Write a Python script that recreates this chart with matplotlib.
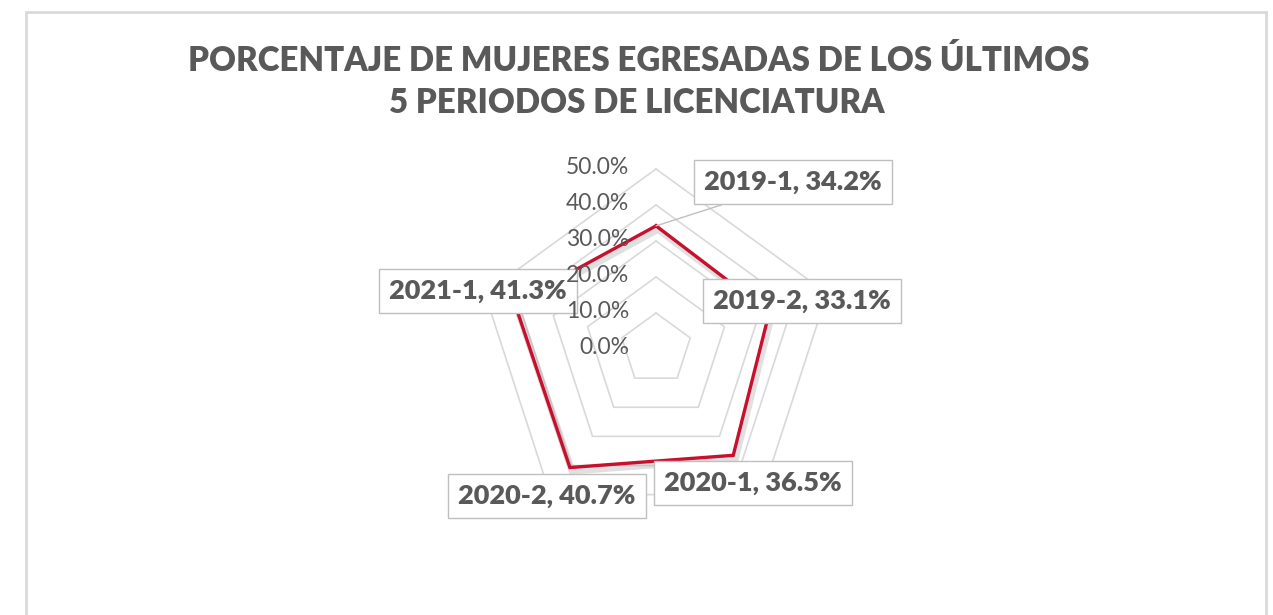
import numpy as np
import matplotlib
matplotlib.use('Agg')
import matplotlib.pyplot as plt
import matplotlib.patheffects as pe
from matplotlib.patches import Rectangle

# datos del grafico
periodos = ['2019-1', '2019-2', '2020-1', '2020-2', '2021-1']
porcentajes = [0.342, 0.331, 0.365, 0.407, 0.413]
niveles = [0.0, 0.1, 0.2, 0.3, 0.4, 0.5]
niveles_txt = ['0.0%', '10.0%', '20.0%', '30.0%', '40.0%', '50.0%']
titulo1 = 'PORCENTAJE DE MUJERES EGRESADAS DE LOS ÚLTIMOS'
titulo2 = '5 PERIODOS DE LICENCIATURA'

gris = '#595959'
rejilla = '#d9d9d9'
rojo = '#C8102E'
W, H = 1273, 615

fig = plt.figure(figsize=(W / 100, H / 100), dpi=100)
fig.patch.set_facecolor('white')

# marco del grafico
fig.patches.append(Rectangle((26 / W, -0.05), (1266 - 26) / W, 1.05 - 12 / H,
                             transform=fig.transFigure, fill=False,
                             edgecolor=rejilla, lw=2))

fig.text(639 / W, 1 - 61 / H, titulo1, ha='center', va='center',
         fontsize=23.8, fontweight='heavy', color=gris, family='Lato')
fig.text(637 / W, 1 - 103 / H, titulo2, ha='center', va='center',
         fontsize=23.8, fontweight='heavy', color=gris, family='Lato')

# eje polar: centro (656, 349), radio 180 px
cx, cy, R = 656, 349, 180
ax = fig.add_axes([(cx - R) / W, (H - cy - R) / H, 2 * R / W, 2 * R / H],
                  projection='polar')
ax.set_theta_zero_location('N')
ax.set_theta_direction(-1)
ax.set_ylim(0, 0.5)
ax.set_xticks([])
ax.set_yticks([])
ax.grid(False)
ax.spines['polar'].set_visible(False)
ax.patch.set_alpha(0)

ang = np.linspace(0, 2 * np.pi, len(periodos), endpoint=False)
ang_c = np.append(ang, ang[0])

for n in niveles[1:]:
    ax.plot(ang_c, [n] * len(ang_c), color=rejilla, lw=1.2, clip_on=False, zorder=1)

# etiquetas del eje radial (encima de todo)
for n, t in zip(niveles, niveles_txt):
    ax.annotate(t, xy=(0, n), xytext=(-27, 1), textcoords='offset pixels',
                ha='right', va='center', fontsize=16.5, color=gris,
                family='Lato', zorder=6, annotation_clip=False)

vals = np.append(porcentajes, porcentajes[0])
ax.plot(ang_c, vals, color=rojo, lw=2.4, clip_on=False, zorder=3,
        solid_joinstyle='miter',
        path_effects=[pe.SimpleLineShadow(offset=(1.5, -2.5), shadow_color='#9a9a9a',
                                          alpha=0.3, linewidth=5),
                      pe.Normal()])

# posiciones de las etiquetas (pixeles de la figura)
pos_etq = [(793, 182), (802, 301), (753, 483), (547, 496), (478, 291)]
for i, (p, v) in enumerate(zip(periodos, porcentajes)):
    x, y = pos_etq[i]
    flecha = dict(arrowstyle='-', color='#bfbfbf', lw=1, shrinkA=0, shrinkB=0) if i == 0 else None
    ax.annotate(f'{p}, {v * 100:.1f}%', xy=(ang[i], v), xytext=(x, H - y),
                textcoords='figure pixels', ha='center', va='center',
                fontsize=19.5, fontweight='heavy', color=gris, family='Lato',
                bbox=dict(boxstyle='square,pad=0.38', fc='white', ec='#bfbfbf', lw=1),
                arrowprops=flecha, zorder=5, annotation_clip=False)

fig.savefig('out.png', dpi=100)
